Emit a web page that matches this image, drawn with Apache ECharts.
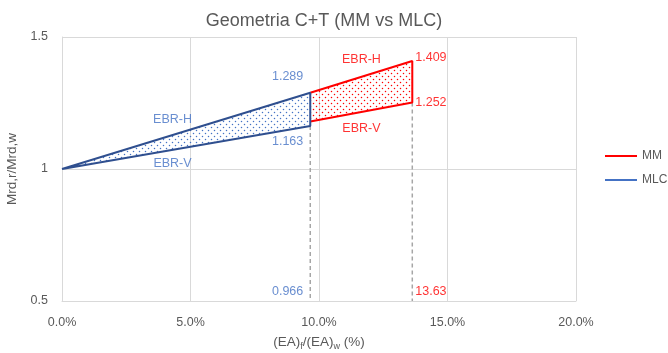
<!DOCTYPE html>
<html>
<head>
<meta charset="utf-8">
<script src="https://cdn.jsdelivr.net/npm/echarts@6/dist/echarts.min.js"></script>
<style>
  html, body { margin: 0; padding: 0; background: #fff; }
  #chart { width: 668px; height: 353px; }
</style>
</head>
<body>
<div id="chart"></div>
<script>
// Ratio of reinforced to unreinforced moment capacity vs stiffness ratio
const xTicks = [0, 5, 10, 15, 20];
const yTicks = [0.5, 1, 1.5];

// MLC envelope (EBR-H upper edge, EBR-V lower edge)
const mlcX = [0, 9.66];
const mlcH = [1.0, 1.289];
const mlcV = [1.0, 1.163];

// MM envelope
const mmX = [9.66, 13.63];
const mmH = [1.289, 1.409];
const mmV = [1.18, 1.252];

const xLabels = ['0.966', '13.63'];

const RED = '#FF0000';
const BLUE_LINE = '#2F4F8F';
const BLUE_TXT = '#4472C4';
const FONT = '"Liberation Sans", Arial, sans-serif';

function dotPattern(color) {
  const c = document.createElement('canvas');
  c.width = 6; c.height = 6;
  const g = c.getContext('2d');
  g.fillStyle = color;
  g.beginPath(); g.arc(1.5, 1.5, 0.75, 0, Math.PI * 2); g.fill();
  g.beginPath(); g.arc(4.5, 4.5, 0.75, 0, Math.PI * 2); g.fill();
  return c;
}

function band(xs, top, bot) {
  return [
    [xs[0], top[0]], [xs[1], top[1]], [xs[1], bot[1]], [xs[0], bot[0]]
  ];
}

function polySeries(pts, color) {
  return {
    type: 'custom',
    silent: true,
    z: 1,
    data: [0],
    renderItem: function (params, api) {
      return {
        type: 'polygon',
        shape: { points: pts.map(p => api.coord(p)) },
        style: { fill: { image: dotPattern(color), repeat: 'repeat' } }
      };
    }
  };
}

function outline(name, pts, color, z, closed) {
  return {
    name: name,
    type: 'line',
    data: closed ? pts.concat([pts[0]]) : pts,
    symbol: 'none',
    z: z,
    lineStyle: { color: color, width: 2 },
    itemStyle: { color: color },
    animation: false
  };
}

function dashed(x, yTop) {
  return {
    type: 'line',
    data: [[x, yTop], [x, yTicks[0]]],
    symbol: 'none',
    z: 0,
    silent: true,
    lineStyle: { color: '#A6A6A6', width: 1.5, type: [4, 3] },
    animation: false
  };
}

function lbl(x, y, text, color, pos, offset) {
  return {
    value: [x, y],
    label: {
      show: true, formatter: text, color: color, position: pos,
      offset: offset || [0, 0], fontFamily: FONT, fontSize: 12.5
    }
  };
}

const mlcPts = band(mlcX, mlcH, mlcV);
const mmPts = band(mmX, mmH, mmV);

const option = {
  animation: false,
  title: {
    text: 'Geometria C+T (MM vs MLC)',
    left: 319, top: 7, textAlign: 'center',
    textStyle: { fontFamily: FONT, fontSize: 18, fontWeight: 'normal', color: '#595959' }
  },
  legend: {
    orient: 'vertical',
    left: 600, top: 145,
    itemWidth: 32, itemHeight: 2, itemGap: 12,
    icon: 'rect',
    textStyle: { fontFamily: FONT, fontSize: 12, color: '#595959', padding: [0, 0, 0, 0] },
    data: [
      { name: 'MM', itemStyle: { color: RED } },
      { name: 'MLC', itemStyle: { color: BLUE_TXT } }
    ]
  },
  grid: { left: 62, right: 92, top: 37, bottom: 52, outerBoundsMode: 'none', containLabel: false },
  xAxis: {
    type: 'value', min: xTicks[0], max: xTicks[xTicks.length - 1], interval: 5,
    axisLine: { show: true, lineStyle: { color: '#D9D9D9' } },
    axisTick: { show: false },
    splitLine: { lineStyle: { color: '#D9D9D9' } },
    axisLabel: {
      formatter: v => v.toFixed(1) + '%', color: '#595959',
      fontFamily: FONT, fontSize: 12.5, margin: 15
    },
    name: '{a|(EA)}{s|f}{a|/(EA)}{s|w}{a| (%)}',
    nameLocation: 'middle', nameGap: 33,
    nameTextStyle: {
      rich: {
        a: { fontFamily: FONT, fontSize: 13.5, color: '#595959' },
        s: { fontFamily: FONT, fontSize: 9, color: '#595959', verticalAlign: 'bottom', padding: [8, 0, 0, 0] }
      }
    }
  },
  yAxis: {
    type: 'value', min: yTicks[0], max: yTicks[yTicks.length - 1], interval: 0.5,
    axisLine: { show: true, lineStyle: { color: '#D9D9D9' } },
    axisTick: { show: false },
    splitLine: { lineStyle: { color: '#D9D9D9' } },
    axisLabel: { color: '#595959', fontFamily: FONT, fontSize: 12.5, margin: 14 },
    name: 'Mrd,r/Mrd,w', nameLocation: 'middle', nameGap: 38, nameRotate: 90,
    nameTextStyle: { fontFamily: FONT, fontSize: 13.5, color: '#595959' }
  },
  series: [
    dashed(mlcX[1], mlcV[1]),
    dashed(mmX[1], mmV[1]),
    polySeries(mmPts, RED),
    polySeries(mlcPts, BLUE_TXT),
    outline('MM', mmPts, RED, 3, false),
    outline('MLC', mlcPts, BLUE_LINE, 4, true),
    {
      type: 'scatter', symbolSize: 0, z: 5, silent: true,
      data: [
        lbl(mlcX[1], mlcH[1], String(mlcH[1]), BLUE_TXT, 'left', [-2, -16]),
        lbl(mlcX[1], mlcV[1], String(mlcV[1]), BLUE_TXT, 'left', [-2, 16]),
        lbl(mmX[1], mmH[1], String(mmH[1]), RED, 'right', [-2, -3]),
        lbl(mmX[1], mmV[1], String(mmV[1]), RED, 'right', [-2, 0]),
        lbl(4.3, 1.187, 'EBR-H', BLUE_TXT, 'inside'),
        lbl(4.3, 1.02, 'EBR-V', BLUE_TXT, 'inside'),
        lbl(11.65, 1.415, 'EBR-H', RED, 'inside'),
        lbl(11.65, 1.155, 'EBR-V', RED, 'inside'),
        lbl(mlcX[1], 0.5, xLabels[0], BLUE_TXT, 'left', [-2, -9]),
        lbl(mmX[1], 0.5, xLabels[1], RED, 'right', [-2, -9])
      ]
    }
  ]
};

echarts.init(document.getElementById('chart'), null, { renderer: 'canvas' }).setOption(option);
</script>
</body>
</html>
